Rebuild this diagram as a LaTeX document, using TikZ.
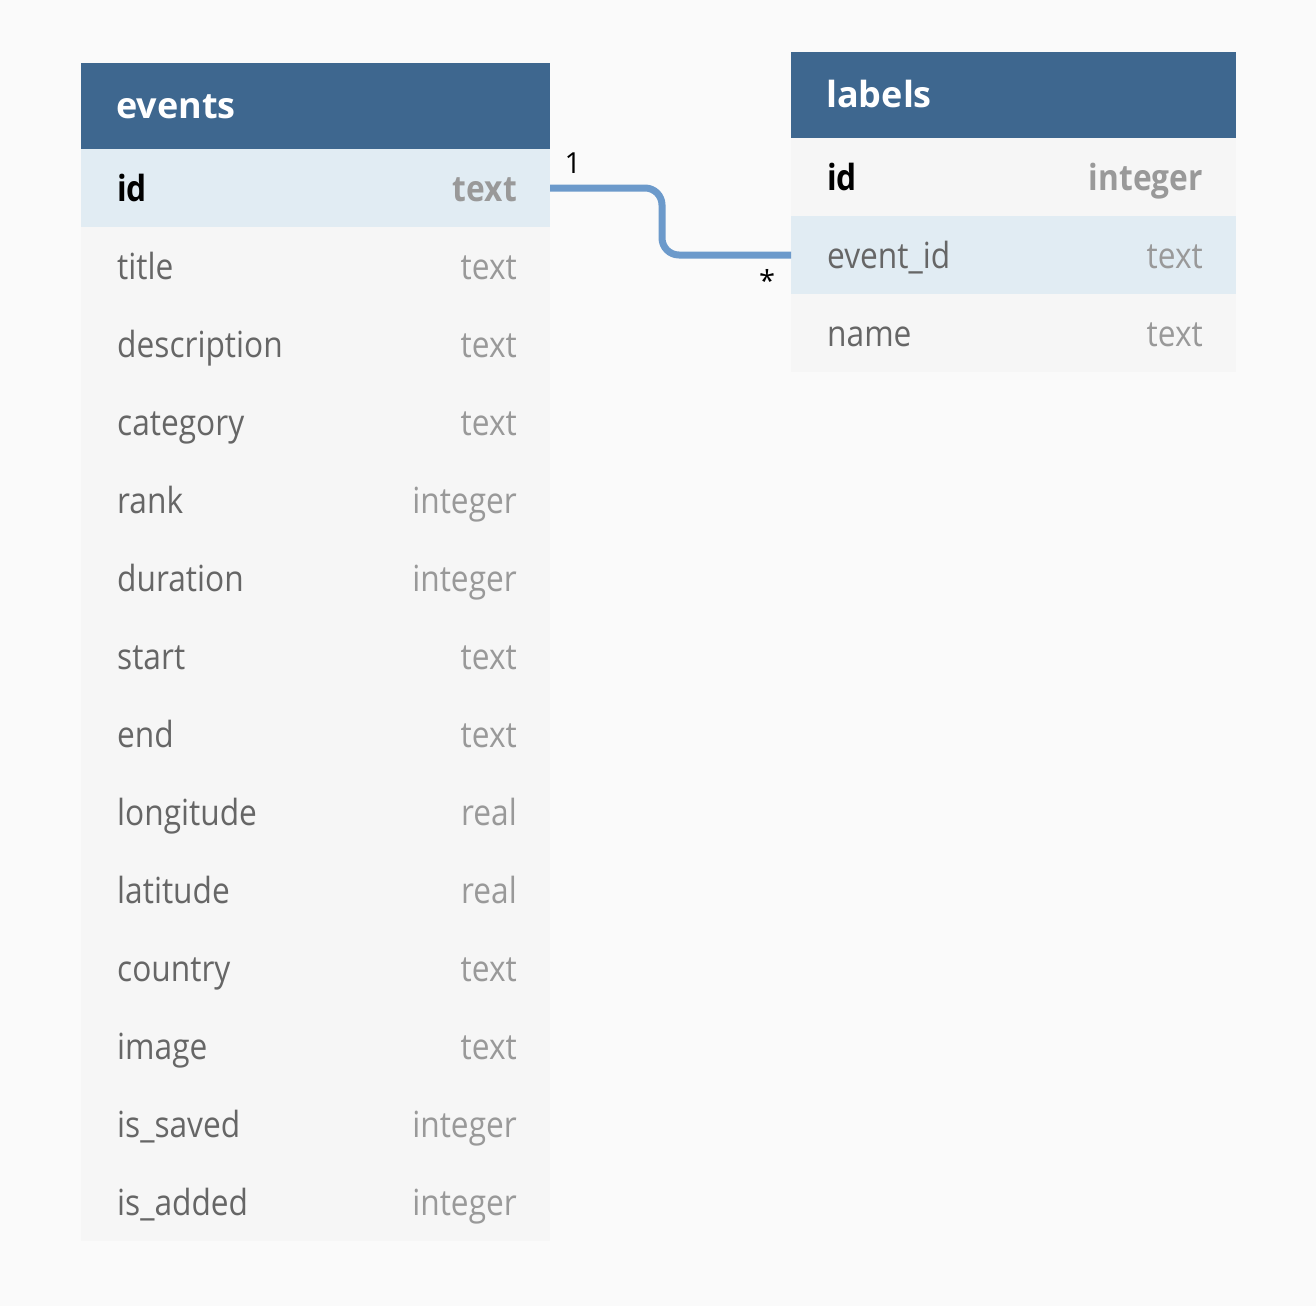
\documentclass[tikz,border=0pt]{standalone}
\usepackage{fontspec}
\setmainfont{Open Sans}[FakeStretch=0.88]
\newfontfamily\hdrfont{Open Sans}
\usetikzlibrary{calc}
\definecolor{canvas}{HTML}{FAFAFA}
\definecolor{hdrblue}{HTML}{3E678F}
\definecolor{rowbg}{HTML}{F6F6F6}
\definecolor{rowhl}{HTML}{E1ECF3}
\definecolor{conncol}{HTML}{6C9ACB}
\definecolor{namecol}{HTML}{666666}
\definecolor{typecol}{HTML}{999999}
\tikzset{
  hdrbox/.style={fill=hdrblue, draw=none, inner sep=0pt, outer sep=0pt, anchor=north west, minimum height=86pt},
  rowbox/.style={fill=rowbg, draw=none, inner sep=0pt, outer sep=0pt, anchor=north west, minimum height=78pt},
  hlbox/.style={rowbox, fill=rowhl},
  hdrtext/.style={inner sep=0pt, anchor=base west, text=white, font=\hdrfont\fontsize{36}{40}\selectfont\bfseries},
  colname/.style={inner sep=0pt, anchor=base west, text=namecol, font=\fontsize{36}{40}\selectfont},
  coltype/.style={inner sep=0pt, anchor=base east, text=typecol, font=\fontsize{36}{40}\selectfont},
  pkname/.style={colname, text=black, font=\fontsize{36}{40}\selectfont\bfseries},
  pktype/.style={coltype, font=\fontsize{36}{40}\selectfont\bfseries},
  conn/.style={draw=conncol, line width=7pt, rounded corners=17pt},
  card/.style={inner sep=0pt, text=black, font=\hdrfont\fontsize{29}{32}\selectfont}
}
\begin{document}
\begin{tikzpicture}[x=1pt, y=-1pt]
\fill[canvas] (0,0) rectangle (1316,1306);
\useasboundingbox (0,0) rectangle (1316,1306);

% events table
\node[hdrbox, minimum width=469pt] (evh) at (81,63) {};
\node[hdrtext] (evht) at ($(evh.west)+(35,12)$) {events};
\node[hlbox, minimum width=469pt] (ev1) at (81,149) {};
\node[pkname] (ev1n) at ($(ev1.west)+(36,13)$) {id};
\node[pktype] (ev1t) at ($(ev1.east)+(-33,13)$) {text};
\foreach \n/\t [count=\i from 2] in {title/text, description/text, category/text, rank/integer, duration/integer, start/text, end/text, longitude/real, latitude/real, country/text, image/text, is\_saved/integer, is\_added/integer} {
  \node[rowbox, minimum width=469pt] (ev\i) at (81,{149+78*(\i-1)}) {};
  \node[colname] (ev\i n) at ($(ev\i.west)+(36,13)$) {\n};
  \node[coltype] (ev\i t) at ($(ev\i.east)+(-33,13)$) {\t};
}

% labels table
\node[hdrbox, minimum width=445pt] (lbh) at (791,52) {};
\node[hdrtext] (lbht) at ($(lbh.west)+(35,12)$) {labels};
\node[rowbox, minimum width=445pt] (lb1) at (791,138) {};
\node[pkname] (lb1n) at ($(lb1.west)+(36,13)$) {id};
\node[pktype] (lb1t) at ($(lb1.east)+(-33,13)$) {integer};
\node[hlbox, minimum width=445pt] (lb2) at (791,216) {};
\node[colname] (lb2n) at ($(lb2.west)+(36,13)$) {event\_id};
\node[coltype] (lb2t) at ($(lb2.east)+(-33,13)$) {text};
\node[rowbox, minimum width=445pt] (lb3) at (791,294) {};
\node[colname] (lb3n) at ($(lb3.west)+(36,13)$) {name};
\node[coltype] (lb3t) at ($(lb3.east)+(-33,13)$) {text};

% relation
\draw[conn] (ev1.east) -- ++(112,0) |- (lb2.west);
\node[card] (c1) at (573,163) {1};
\node[card] (c2) at (767,280) {*};
\end{tikzpicture}
\end{document}
